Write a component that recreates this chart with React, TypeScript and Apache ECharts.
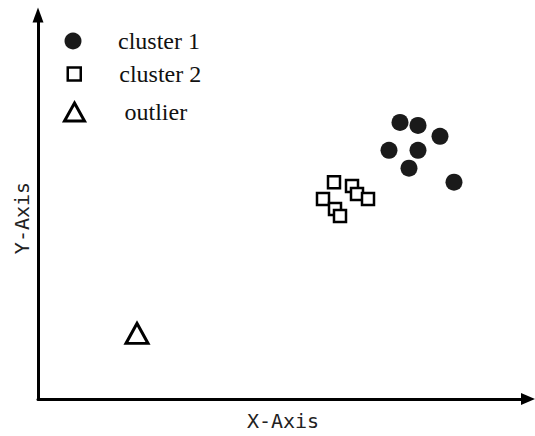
import React, { useEffect, useRef } from "react";
import * as echarts from "echarts";

const cluster1: [number, number][] = [
  [36.2, 27.8], [38.0, 27.5], [40.2, 26.4], [35.1, 25.0], [38.0, 25.0], [37.1, 23.2], [41.6, 21.8],
];
const cluster2: [number, number][] = [
  [29.6, 21.8], [31.4, 21.4], [28.5, 20.1], [31.9, 20.6], [33.0, 20.1], [29.7, 19.1], [30.2, 18.4],
];
const outlier: [number, number][] = [[9.9, 6.6]];
const seriesNames = ["cluster 1", "cluster 2", "outlier"];
const axisNames = ["X-Axis", "Y-Axis"];

export default function App() {
  const ref = useRef<HTMLDivElement>(null);
  useEffect(() => {
    document.body.style.margin = "0";
    const chart = echarts.init(ref.current!, undefined, { renderer: "svg" });
    const legendText = { fontFamily: "Liberation Serif", fontSize: 24, color: "#111" };
    chart.setOption({
      animation: false,
      backgroundColor: "#fff",
      grid: { left: 38, right: 7, top: 15, bottom: 35 },
      legend: [
        {
          data: [seriesNames[0]], left: 64.5, top: 29, padding: 0, itemWidth: 17, itemHeight: 17,
          textStyle: { ...legendText, padding: [0, 0, 0, 31.5] }, selectedMode: false,
        },
        {
          data: [seriesNames[1]], left: 66.5, top: 62, padding: 0, itemWidth: 13, itemHeight: 13,
          itemStyle: { borderWidth: 2.5, borderColor: "#000", color: "#fff" },
          textStyle: { ...legendText, padding: [0, 0, 0, 33.5] }, selectedMode: false,
        },
        {
          data: [seriesNames[2]], left: 63, top: 100, padding: 0, itemWidth: 20, itemHeight: 18,
          itemStyle: { borderWidth: 3, borderColor: "#000", color: "#fff" },
          textStyle: { ...legendText, padding: [0, 0, 0, 35] }, selectedMode: false,
        },
      ],
      xAxis: {
        type: "value", min: 0, max: 49,
        axisLine: { show: true, symbol: ["none", "triangle"], symbolSize: [12, 14], lineStyle: { color: "#000", width: 3 } },
        axisTick: { show: false }, axisLabel: { show: false }, splitLine: { show: false },
        name: axisNames[0], nameLocation: "middle", nameGap: 12,
        nameTextStyle: { fontFamily: "DejaVu Sans Mono", fontSize: 20, color: "#222" },
      },
      yAxis: {
        type: "value", min: 0, max: 38.6,
        axisLine: { show: true, symbol: ["none", "triangle"], symbolSize: [11, 15], lineStyle: { color: "#000", width: 3 } },
        axisTick: { show: false }, axisLabel: { show: false }, splitLine: { show: false },
        name: axisNames[1], nameLocation: "middle", nameGap: 6, nameRotate: 90,
        nameTextStyle: { fontFamily: "DejaVu Sans Mono", fontSize: 20, color: "#222", padding: [0, 22, 0, 0] },
      },
      series: [
        {
          name: seriesNames[0], type: "scatter", data: cluster1, symbol: "circle", symbolSize: 17,
          itemStyle: { color: "#1a1a1a", opacity: 1 },
        },
        {
          name: seriesNames[1], type: "scatter", data: cluster2, symbol: "rect", symbolSize: 12,
          itemStyle: { color: "#fff", borderColor: "#000", borderWidth: 2.5, opacity: 1 },
        },
        {
          name: seriesNames[2], type: "scatter", data: outlier, symbol: "triangle", symbolSize: [22, 20],
          itemStyle: { color: "#fff", borderColor: "#000", borderWidth: 3, opacity: 1 },
        },
      ],
    });
    return () => chart.dispose();
  }, []);
  return <div ref={ref} style={{ width: 535, height: 436 }} />;
}
